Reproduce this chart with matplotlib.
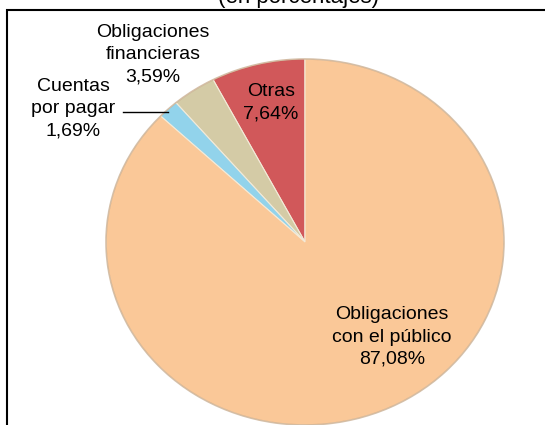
import matplotlib
matplotlib.use("Agg")
import matplotlib.pyplot as plt
from matplotlib.patches import Rectangle, Ellipse

plt.rcParams['font.family'] = ['Liberation Sans', 'DejaVu Sans']

categories = ["Otras", "Obligaciones\nfinancieras", "Cuentas\npor pagar", "Obligaciones\ncon el público"]
values = [7.64, 3.59, 1.69, 87.08]
value_labels = ["7,64%", "3,59%", "1,69%", "87,08%"]
colors = ["#D1585A", "#D4CBA6", "#92D3EB", "#FAC898"]
title = "(en porcentajes)"

W, H = 545, 425
fig = plt.figure(figsize=(W / 100, H / 100), dpi=100)
ax = fig.add_axes([0, 0, 1, 1])

wedges, _ = ax.pie(values, colors=colors, startangle=90, counterclock=True,
                   radius=1.0,
                   wedgeprops=dict(edgecolor="#f3ead8", linewidth=0.8))
ax.set_aspect('auto')

# pixel geometry: center (305, 242), radii 199 x 183
cx, cy, rx, ry = 305, 242, 199, 183
ax.set_xlim((0 - cx) / rx, (W - cx) / rx)
ax.set_ylim((cy - H) / ry, cy / ry)
ax.axis('off')

# soft darker rim
rim = Ellipse((0, 0), 2.0, 2.0, fill=False, edgecolor="#b08a68", linewidth=1.2, alpha=0.45)
ax.add_patch(rim)


def d(px, py):
    return ((px - cx) / rx, (cy - py) / ry)


fs = 14
ls = 1.4
label_pos = [(271, 102.5), (153, 54.5), (73, 108.5), (392, 337)]
for cat, val, (px, py) in zip(categories, value_labels, label_pos):
    x, y = d(px, py)
    ax.text(x, y, f"{cat}\n{val}", ha='center', va='center', fontsize=fs,
            linespacing=ls, color='black')

# leader line for Cuentas por pagar
(x0, y0), (x1, y1) = d(123, 112), d(168, 112)
ax.plot([x0, x1], [y0, y1], color='black', linewidth=1.0)

# title (cut off at the top)
fig.text(298 / W, 1 - 2.5 / H, title, ha='center', va='baseline', fontsize=16)

# chart border
border = Rectangle((7 / W, -0.2), 1.2, 1.2 - 10 / H, transform=fig.transFigure,
                   fill=False, edgecolor='black', linewidth=1.5, clip_on=False)
fig.patches.append(border)

fig.savefig("out.png", dpi=100)
